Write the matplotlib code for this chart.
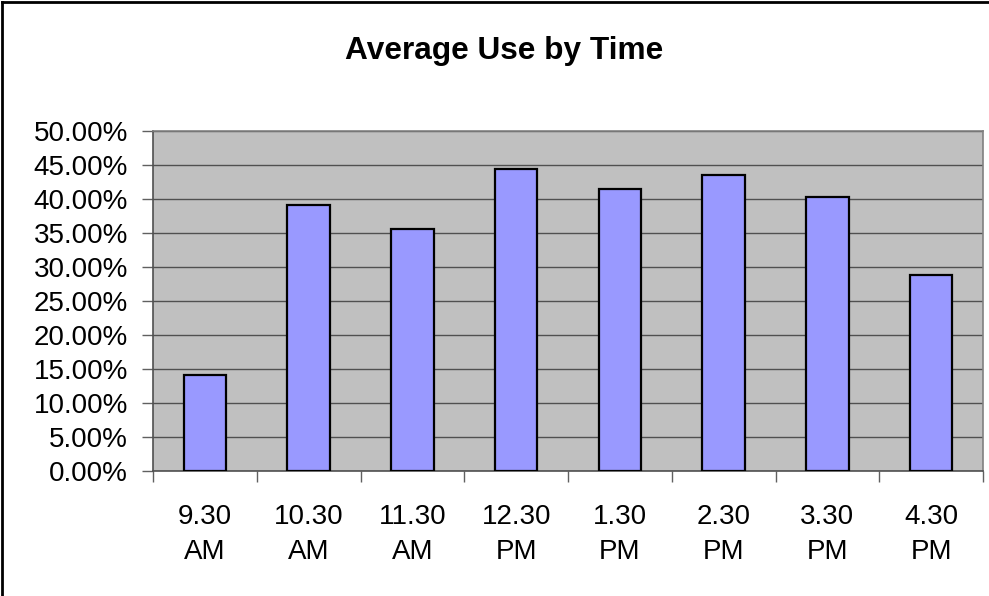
import matplotlib
matplotlib.use("Agg")
import matplotlib.pyplot as plt
from matplotlib.ticker import FixedLocator, PercentFormatter
from matplotlib.lines import Line2D

# values (percent)
times = ["9.30\nAM", "10.30\nAM", "11.30\nAM", "12.30\nPM",
         "1.30\nPM", "2.30\nPM", "3.30\nPM", "4.30\nPM"]
avg_use = [14.1, 39.1, 35.6, 44.4, 41.5, 43.6, 40.3, 28.8]
y_ticks = [0, 5, 10, 15, 20, 25, 30, 35, 40, 45, 50]

plt.rcParams['font.family'] = ['Liberation Sans', 'DejaVu Sans']

fig = plt.figure(figsize=(9.89, 5.96), dpi=100)
ax = fig.add_axes([153 / 989, 125 / 596, 830 / 989, 340 / 596])

ax.set_facecolor('#C0C0C0')
pos = list(range(len(times)))
ax.bar(pos, avg_use, width=0.41, color='#9999FF', edgecolor='black',
       linewidth=1.6, zorder=3)

ax.set_xlim(-0.5, len(times) - 0.5)
ax.set_ylim(0, 50)
ax.yaxis.set_major_locator(FixedLocator(y_ticks))
ax.yaxis.set_major_formatter(PercentFormatter(decimals=2))
ax.yaxis.grid(True, color='#505050', linewidth=1.0, zorder=1)

# category labels centred, tick marks between categories
ax.set_xticks(pos)
ax.set_xticklabels(times, linespacing=1.45)
ax.set_xticks([p - 0.5 for p in pos] + [len(times) - 0.5], minor=True)
ax.tick_params(axis='x', which='major', length=0, pad=24, labelsize=20)
ax.tick_params(axis='x', which='minor', length=8, width=1, color='#606060')
ax.tick_params(axis='y', length=8, width=1, color='#606060', pad=10,
               labelsize=20)

for side in ['left', 'bottom']:
    ax.spines[side].set_color('#505050')
    ax.spines[side].set_linewidth(1.2)
for side in ['top', 'right']:
    ax.spines[side].set_color('#808080')
    ax.spines[side].set_linewidth(1.2)

fig.text(504 / 989, 1 - 51 / 596, "Average Use by Time", ha='center',
         va='center', fontsize=22.8, fontweight='bold')

# outer chart border (left and top visible)
fig.add_artist(Line2D([2 / 989, 2 / 989], [0, 1 - 2 / 596], color='black',
                      linewidth=2))
fig.add_artist(Line2D([2 / 989, 1], [1 - 2 / 596, 1 - 2 / 596],
                      color='black', linewidth=2))

fig.savefig("out.png", dpi=100)
